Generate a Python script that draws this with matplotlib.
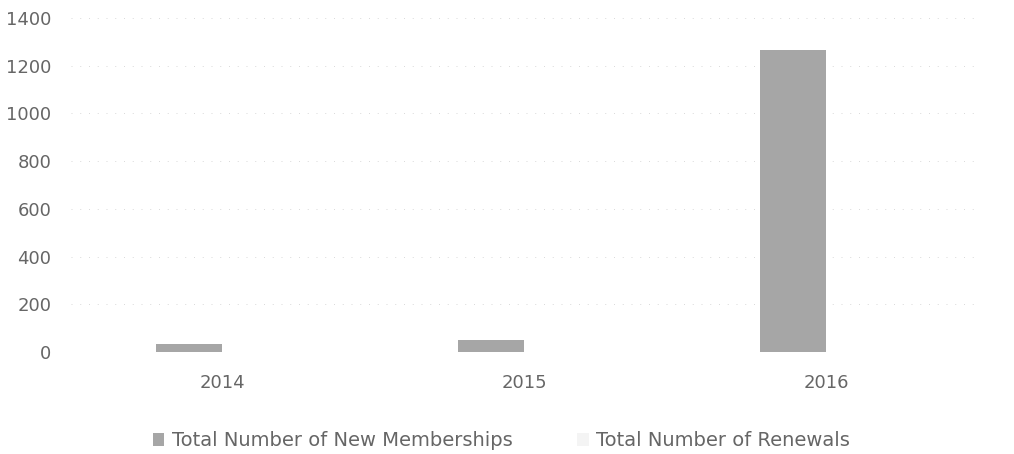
import numpy as np
import matplotlib.pyplot as plt

years = ['2014', '2015', '2016']
new_memberships = [35, 50, 1265]
renewals = [30, 45, 600]  # renewal bars are barely visible in the scan

plt.rcParams['font.family'] = ['DejaVu Sans']

fig = plt.figure(figsize=(10.14, 4.54), dpi=100)
ax = fig.add_axes([71 / 1014, 1 - 352 / 454, 906 / 1014, 334 / 454])

x = np.arange(len(years))
w = 0.22
ax.bar(x - w / 2, new_memberships, w, color='#a6a6a6', label='Total Number of New Memberships', zorder=2)
ax.bar(x + w / 2, renewals, w, color='#ffffff', edgecolor='none',
       label='Total Number of Renewals', zorder=0.3)

ax.set_xlim(-0.5, 2.5)
ax.set_ylim(0, 1400)
ax.set_yticks(range(0, 1401, 200))
ax.set_xticks(x)
ax.set_xticklabels(years)
ax.set_axisbelow(True)
ax.yaxis.grid(True, color='#d9d9d9', linestyle=(0, (1, 8)), linewidth=0.7)
for s in ax.spines.values():
    s.set_visible(False)
ax.tick_params(length=0, labelsize=13, colors='#666666')
ax.tick_params(axis='y', pad=14)
ax.tick_params(axis='x', pad=16)

leg = ax.legend(loc='upper center', bbox_to_anchor=(0.475, -0.185), ncol=2, frameon=False,
                fontsize=14, labelcolor='#666666', handlelength=0.6, handleheight=0.6,
                handletextpad=0.4, columnspacing=3.3)
leg.legend_handles[1].set_facecolor('#f4f4f4')

fig.savefig('out.png', dpi=100)
